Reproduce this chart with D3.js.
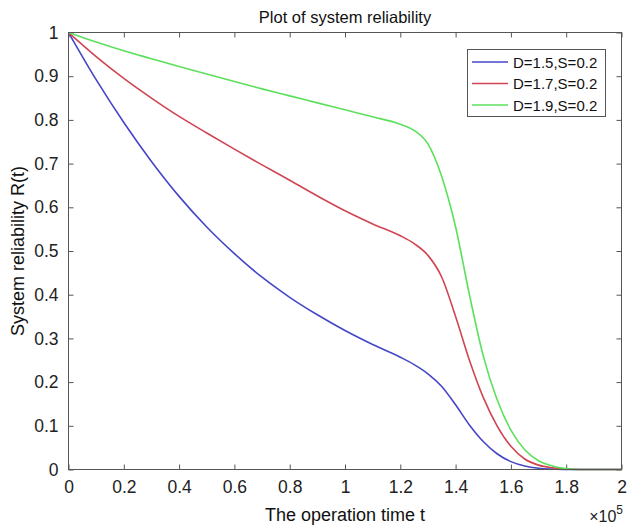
<!DOCTYPE html>
<html lang="en">
<head>
  <meta charset="UTF-8">
  <title>Plot of system reliability</title>
  <script src="https://d3js.org/d3.v7.min.js"></script>
  <style>
    body { margin: 0; background: #fff; }
    svg { display: block; font-family: "Liberation Sans", Arial, sans-serif; }
    .tick text { font-size: 17.5px; fill: #222; }
  </style>
</head>
<body>
  <svg width="627" height="528"></svg>

  <script>
    // operation time, in units of 1e5
    const times = [0, 0.1, 0.2, 0.3, 0.4, 0.5, 0.6, 0.7, 0.8, 0.9, 1.0, 1.1, 1.2, 1.25, 1.3, 1.35,
                   1.4, 1.45, 1.5, 1.55, 1.6, 1.65, 1.7, 1.75, 1.8, 1.85, 1.9, 2.0];
    const relD15 = [1, 0.892, 0.794, 0.705, 0.625, 0.555, 0.494, 0.44, 0.394, 0.354, 0.318, 0.286, 0.257, 0.24, 0.219, 0.19,
                    0.148, 0.102, 0.064, 0.036, 0.018, 0.008, 0.003, 0.001, 0, 0, 0, 0];
    const relD17 = [1, 0.945, 0.895, 0.85, 0.808, 0.77, 0.733, 0.697, 0.662, 0.626, 0.592, 0.562, 0.535, 0.517, 0.49, 0.44,
                    0.35, 0.25, 0.165, 0.1, 0.053, 0.024, 0.01, 0.004, 0.001, 0, 0, 0];
    const relD19 = [1, 0.978, 0.958, 0.94, 0.922, 0.905, 0.888, 0.871, 0.855, 0.839, 0.823, 0.807, 0.79, 0.776, 0.745, 0.67,
                    0.555, 0.40, 0.26, 0.16, 0.09, 0.045, 0.02, 0.008, 0.002, 0, 0, 0];
    const seriesNames = ["D=1.5,S=0.2", "D=1.7,S=0.2", "D=1.9,S=0.2"];
    const seriesColors = ["#4646c8", "#d04552", "#5ce05c"];
    const xTicks = [0, 0.2, 0.4, 0.6, 0.8, 1, 1.2, 1.4, 1.6, 1.8, 2];
    const yTicks = [0, 0.1, 0.2, 0.3, 0.4, 0.5, 0.6, 0.7, 0.8, 0.9, 1];

    const svg = d3.select("svg");
    const m = { left: 68.5, right: 621.5, top: 32.5, bottom: 469.5 };

    const x = d3.scaleLinear().domain([0, 2]).range([m.left, m.right]);
    const y = d3.scaleLinear().domain([0, 1]).range([m.bottom, m.top]);

    const axisColor = "#555";

    // bottom / left axes with labels, ticks pointing inward
    const gx = svg.append("g").attr("transform", `translate(0,${m.bottom})`)
      .call(d3.axisBottom(x).tickValues(xTicks).tickSize(-5).tickPadding(11).tickFormat(d3.format("")));
    const gy = svg.append("g").attr("transform", `translate(${m.left},0)`)
      .call(d3.axisLeft(y).tickValues(yTicks).tickSize(-5).tickPadding(10).tickFormat(d3.format("")));
    // top / right ticks only
    const gxt = svg.append("g").attr("transform", `translate(0,${m.top})`)
      .call(d3.axisTop(x).tickValues(xTicks).tickSize(-5).tickFormat(""));
    const gyr = svg.append("g").attr("transform", `translate(${m.right},0)`)
      .call(d3.axisRight(y).tickValues(yTicks).tickSize(-5).tickFormat(""));

    [gx, gy, gxt, gyr].forEach(g => {
      g.select(".domain").remove();
      g.selectAll(".tick line").attr("stroke", axisColor);
    });

    // lines
    const line = d3.line()
      .x((d, i) => x(times[i]))
      .y(d => y(d))
      .curve(d3.curveMonotoneX);

    [relD15, relD17, relD19].forEach((vals, k) => {
      svg.append("path")
        .attr("d", line(vals))
        .attr("fill", "none")
        .attr("stroke", seriesColors[k])
        .attr("stroke-width", 1.6);
    });

    // axes box
    svg.append("rect")
      .attr("x", m.left).attr("y", m.top)
      .attr("width", m.right - m.left).attr("height", m.bottom - m.top)
      .attr("fill", "none").attr("stroke", axisColor).attr("stroke-width", 1);

    // title and axis labels
    svg.append("text")
      .attr("x", (m.left + m.right) / 2).attr("y", 23)
      .attr("text-anchor", "middle").attr("font-size", 16.5).attr("fill", "#111")
      .text("Plot of system reliability");

    svg.append("text")
      .attr("x", (m.left + m.right) / 2).attr("y", 521)
      .attr("text-anchor", "middle").attr("font-size", 18).attr("fill", "#111")
      .text("The operation time t");

    svg.append("text")
      .attr("transform", `translate(24,${(m.top + m.bottom) / 2}) rotate(-90)`)
      .attr("text-anchor", "middle").attr("font-size", 18).attr("fill", "#111")
      .text("System reliability R(t)");

    const exp = svg.append("text")
      .attr("x", 623).attr("y", 522)
      .attr("text-anchor", "end").attr("font-size", 16).attr("fill", "#222");
    exp.append("tspan").text("\u00d710");
    exp.append("tspan").attr("dy", -8).attr("font-size", 12).text("5");

    // legend
    const lg = svg.append("g");
    lg.append("rect")
      .attr("x", 467.5).attr("y", 49.5).attr("width", 138).attr("height", 67)
      .attr("fill", "#fff").attr("stroke", axisColor);
    seriesNames.forEach((name, k) => {
      const ly = 62 + k * 21.5;
      lg.append("line")
        .attr("x1", 472).attr("x2", 508).attr("y1", ly).attr("y2", ly)
        .attr("stroke", seriesColors[k]).attr("stroke-width", 1.6);
      lg.append("text")
        .attr("x", 513).attr("y", ly + 5.5)
        .attr("font-size", 15).attr("fill", "#111")
        .text(name);
    });
  </script>
</body>
</html>
